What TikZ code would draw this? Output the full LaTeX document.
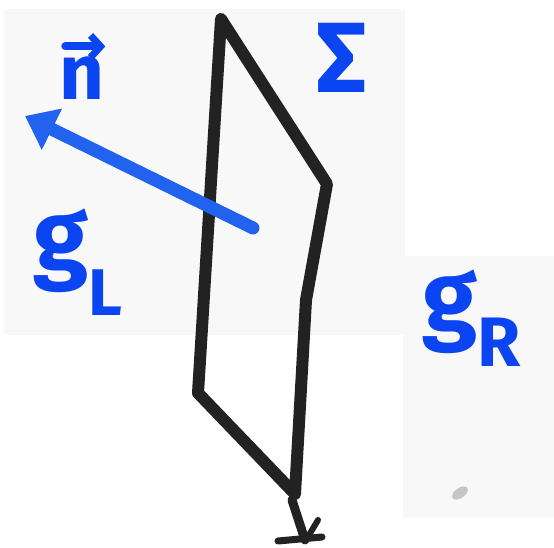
\documentclass[tikz,border=0pt]{standalone}
\usepackage{fontspec}
\setmainfont{Fira Sans}
\usetikzlibrary{arrows.meta}
\definecolor{inkblue}{HTML}{0B45F2}
\definecolor{arrowblue}{HTML}{2163EE}
\definecolor{ink}{HTML}{222222}
\definecolor{paper}{HTML}{F8F8F8}
\tikzset{
  sheet/.style={x=1pt,y=-1pt},
  outline/.style={draw=ink,line width=12pt,line join=round,line cap=round},
  label/.style={text=inkblue,font=\bfseries\fontsize{100}{102}\selectfont,inner sep=0pt},
  smalllabel/.style={text=inkblue,font=\bfseries\fontsize{78}{80}\selectfont,inner sep=0pt},
  normalarrow/.style={draw=arrowblue,line width=13pt,line cap=round,-{Triangle[length=30pt,width=44pt]}},
  vecarrow/.style={draw=inkblue,line width=8pt,line cap=round,-{Straight Barb[length=10pt,width=22pt,line width=7pt]}}
}
\begin{document}
\begin{tikzpicture}[sheet]
\useasboundingbox (0,0) rectangle (554,548);
\fill[white] (0,0) rectangle (554,548);
\fill[paper] (4,9) rectangle (405,335);
\fill[paper] (403,256) rectangle (554,518);
% surface Sigma
\coordinate (p1) at (221,19);
\coordinate (p2) at (327,184);
\coordinate (p3) at (306,300);
\coordinate (p4) at (295,494);
\coordinate (p5) at (198,393);
\draw[outline] (p1) -- (p2) -- (p3) -- (p4) -- (p5) -- cycle;
% small scribble below
\coordinate (s1) at (292,500);
\coordinate (s2) at (305,540);
\draw[draw=ink,line width=9pt,line cap=round] (s1) -- (s2);
\draw[draw=ink,line width=7pt,line cap=round] (278,541) -- (322,537);
\draw[draw=ink,line width=6pt,line cap=round] (318,520) -- (306,540);
% normal arrow
\coordinate (ntail) at (253,228);
\coordinate (nhead) at (25,116);
\draw[normalarrow] (ntail) -- (nhead);
% labels
\node[smalllabel] (n) at (82,78) {n};
\draw[vecarrow] (n.north west) ++(6,-10) -- ++(40,0);
\node[label] (sig) at (342,58) {Σ};
\node[label] (gl) at (78,262) {g\raisebox{-0.45em}{\fontsize{66}{68}\selectfont L}};
\node[label] (gr) at (472,318) {g\raisebox{-0.35em}{\fontsize{70}{72}\selectfont R}};
% smudge
\fill[gray!70,opacity=0.6,rotate around={35:(460,493)}] (460,493) ellipse (9pt and 5pt);
\end{tikzpicture}
\end{document}
